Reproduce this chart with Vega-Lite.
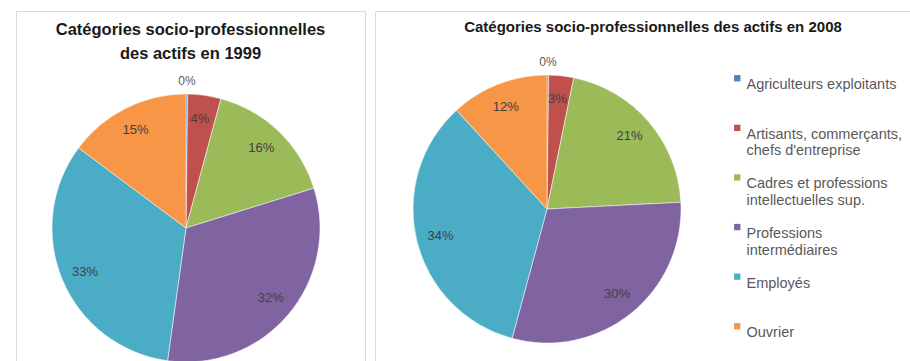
{
  "$schema": "https://vega.github.io/schema/vega-lite/v6.json",
  "padding": {"left": 15, "top": 10, "right": 2, "bottom": 0},
  "background": "white",
  "spacing": 8,
  "resolve": {"scale": {"color": "independent"}, "legend": {"color": "independent"}},
  "config": {
    "view": {"stroke": "#d9d9d9", "strokeWidth": 1},
    "font": "Liberation Sans",
    "title": {"color": "#1a1a1a", "fontWeight": "bold", "anchor": "middle"}
  },
  "data": {
    "values": [
      {"annee": "1999", "categorie": "Agriculteurs exploitants|", "part": 0.002, "ordre": 1},
      {"annee": "1999", "categorie": "Artisants, commerçants,|chefs d'entreprise", "part": 0.04, "ordre": 2},
      {"annee": "1999", "categorie": "Cadres et professions|intellectuelles sup.", "part": 0.16, "ordre": 3},
      {"annee": "1999", "categorie": "Professions|intermédiaires", "part": 0.32, "ordre": 4},
      {"annee": "1999", "categorie": "Employés|", "part": 0.33, "ordre": 5},
      {"annee": "1999", "categorie": "Ouvrier|", "part": 0.148, "ordre": 6},
      {"annee": "2008", "categorie": "Agriculteurs exploitants|", "part": 0.002, "ordre": 1},
      {"annee": "2008", "categorie": "Artisants, commerçants,|chefs d'entreprise", "part": 0.03, "ordre": 2},
      {"annee": "2008", "categorie": "Cadres et professions|intellectuelles sup.", "part": 0.21, "ordre": 3},
      {"annee": "2008", "categorie": "Professions|intermédiaires", "part": 0.30, "ordre": 4},
      {"annee": "2008", "categorie": "Employés|", "part": 0.34, "ordre": 5},
      {"annee": "2008", "categorie": "Ouvrier|", "part": 0.118, "ordre": 6}
    ]
  },
  "hconcat": [
    {
      "width": 349,
      "height": 351,
      "view": {"stroke": "#d9d9d9", "strokeWidth": 1},
      "title": {"text": ["Catégories socio-professionnelles", "des actifs en 1999"], "fontSize": 16.5, "lineHeight": 24, "baseline": "top", "offset": -51},
      "transform": [{"filter": "datum.annee == '1999'"}],
      "encoding": {
        "theta": {"field": "part", "type": "quantitative", "stack": true},
        "order": {"field": "ordre", "type": "quantitative"},
        "color": {
          "field": "categorie", "type": "nominal",
          "scale": {
            "domain": ["Agriculteurs exploitants|", "Artisants, commerçants,|chefs d'entreprise", "Cadres et professions|intellectuelles sup.", "Professions|intermédiaires", "Employés|", "Ouvrier|"],
            "range": ["#4F81BD", "#C0504D", "#9BBB59", "#8064A2", "#4BACC6", "#F79646"]
          },
          "legend": null
        }
      },
      "layer": [
        {"mark": {"type": "arc", "outerRadius": 134, "x": 170, "y": 217, "stroke": "white", "strokeWidth": 0.5}},
        {
          "transform": [{"filter": "datum.ordre > 1"}],
          "mark": {"type": "text", "radius": 110, "x": 170, "y": 217, "fontSize": 13},
          "encoding": {"text": {"field": "part", "format": ".0%"}, "color": {"value": "#404040"}}
        },
        {
          "mark": {"type": "text", "radius": 147, "x": 170, "y": 217, "fontSize": 12},
          "encoding": {
            "text": {"condition": {"test": "datum.ordre == 1", "field": "part", "format": ".0%"}, "value": ""},
            "color": {"value": "#595959"}
          }
        }
      ]
    },
    {
      "width": 536,
      "height": 351,
      "view": {"stroke": "#d9d9d9", "strokeWidth": 1},
      "title": {"text": "Catégories socio-professionnelles des actifs en 2008", "fontSize": 15, "baseline": "top", "offset": -24, "dx": 10},
      "transform": [{"filter": "datum.annee == '2008'"}],
      "encoding": {
        "theta": {"field": "part", "type": "quantitative", "stack": true},
        "order": {"field": "ordre", "type": "quantitative"},
        "color": {
          "field": "categorie", "type": "nominal",
          "scale": {
            "domain": ["Agriculteurs exploitants|", "Artisants, commerçants,|chefs d'entreprise", "Cadres et professions|intellectuelles sup.", "Professions|intermédiaires", "Employés|", "Ouvrier|"],
            "range": ["#4F81BD", "#C0504D", "#9BBB59", "#8064A2", "#4BACC6", "#F79646"]
          },
          "legend": {
            "title": null,
            "orient": "none",
            "legendX": 355,
            "legendY": 60,
            "symbolType": "square",
            "symbolSize": 40,
            "symbolStrokeWidth": 0,
            "labelExpr": "split(datum.label, '|')",
            "labelFontSize": 14.5,
            "labelColor": "#595959",
            "labelBaseline": "top",
            "labelOffset": 2,
            "labelLimit": 300,
            "rowPadding": 11.6
          }
        }
      },
      "layer": [
        {"mark": {"type": "arc", "outerRadius": 134, "x": 172, "y": 198, "stroke": "white", "strokeWidth": 0.5}},
        {
          "transform": [{"filter": "datum.ordre > 1"}],
          "mark": {"type": "text", "radius": 110, "x": 172, "y": 198, "fontSize": 13},
          "encoding": {"text": {"field": "part", "format": ".0%"}, "color": {"value": "#404040"}}
        },
        {
          "mark": {"type": "text", "radius": 147, "x": 172, "y": 198, "fontSize": 12},
          "encoding": {
            "text": {"condition": {"test": "datum.ordre == 1", "field": "part", "format": ".0%"}, "value": ""},
            "color": {"value": "#595959"}
          }
        }
      ]
    }
  ]
}
